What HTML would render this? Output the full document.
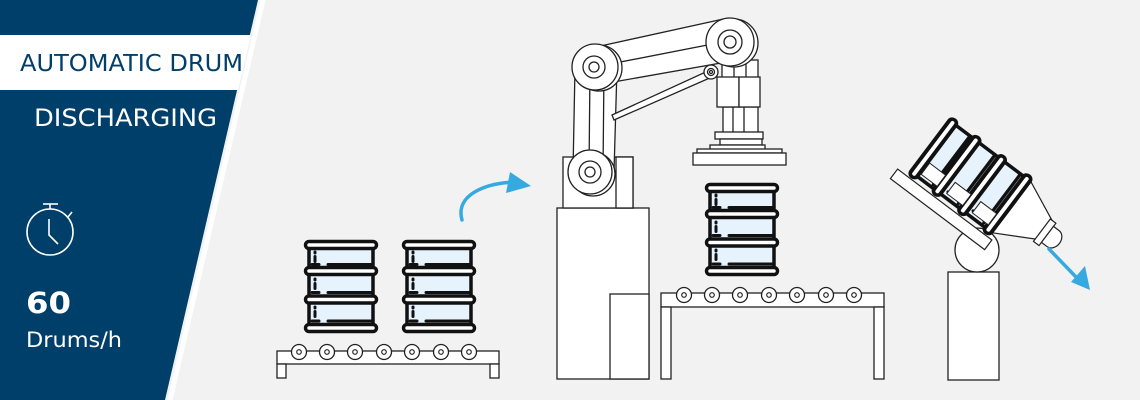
<!DOCTYPE html>
<html><head><meta charset="utf-8"><style>
html,body{margin:0;padding:0;background:#f2f2f2;}
svg{display:block}
text{font-family:"DejaVu Sans","Liberation Sans",sans-serif;}
</style></head><body>
<svg width="1140" height="400" viewBox="0 0 1140 400" xmlns="http://www.w3.org/2000/svg">
<defs>
<g id="drum">
  <rect x="5" y="6" width="64" height="82" fill="#e6f2fc" stroke="#111" stroke-width="3.5"/>
  <g fill="#fff" stroke="#111" stroke-width="3.5">
    <rect x="1.5" y="1.5" width="71" height="7" rx="3.5"/>
    <rect x="1.5" y="27.5" width="71" height="7" rx="3.5"/>
    <rect x="1.5" y="56" width="71" height="7" rx="3.5"/>
    <rect x="1.5" y="84.5" width="71" height="7" rx="3.5"/>
  </g>
  <g stroke="#111" stroke-width="3" stroke-linecap="round" fill="none">
    <path d="M11 12v1M11 16.5v5M8 24.5h7M24 24.5h45"/>
    <path d="M11 39v1M11 43.5v5M8 52.5h7M24 52.5h45"/>
    <path d="M11 67v1M11 71.5v5M8 81h7M24 81h45"/>
  </g>
</g>
<g id="roller"><circle r="7.5" fill="#fff" stroke="#222" stroke-width="1.3"/><circle r="2.3" fill="none" stroke="#222" stroke-width="1.1"/></g>
</defs>

<rect width="1140" height="400" fill="#f2f2f2"/>
<!-- left panel -->
<polygon points="0,0 258,0 165,400 0,400" fill="#003f69"/>
<line x1="263" y1="0" x2="170" y2="400" stroke="#fff" stroke-width="5"/>
<polygon points="0,35 251,35 238,90 0,90" fill="#fff"/>
<text x="20" y="71" font-size="23" fill="#003f69" textLength="223" lengthAdjust="spacingAndGlyphs">AUTOMATIC DRUM</text>
<text x="34" y="126" font-size="24" fill="#fff" textLength="183" lengthAdjust="spacingAndGlyphs">DISCHARGING</text>
<g stroke="#fff" stroke-width="1.6" fill="none">
  <circle cx="50" cy="232" r="23"/>
  <line x1="43" y1="204" x2="58" y2="204"/><line x1="50" y1="204" x2="50" y2="209"/>
  <line x1="68" y1="217" x2="72" y2="212"/>
  <polyline points="49,219 49,235 58,244"/>
</g>
<text x="26" y="313" font-size="29" font-weight="bold" fill="#fff" textLength="45" lengthAdjust="spacingAndGlyphs">60</text>
<text x="26" y="347" font-size="21" fill="#fff" textLength="96" lengthAdjust="spacingAndGlyphs">Drums/h</text>

<!-- conveyor 1 -->
<g fill="#fff" stroke="#222" stroke-width="1.3">
  <rect x="277" y="351" width="222" height="13"/>
  <rect x="277" y="364" width="9" height="14"/>
  <rect x="490" y="364" width="9" height="14"/>
</g>
<use href="#roller" x="299" y="352"/><use href="#roller" x="327" y="352"/><use href="#roller" x="355" y="352"/><use href="#roller" x="384" y="352"/><use href="#roller" x="412" y="352"/><use href="#roller" x="441" y="352"/><use href="#roller" x="469" y="352"/>
<use href="#drum" x="304" y="240"/>
<use href="#drum" x="402" y="240"/>

<!-- arrow 1 -->
<path d="M462 220 C455 195 485 183 515 182" stroke="#36a9e1" stroke-width="3.5" fill="none" stroke-linecap="round"/>
<polygon points="510,172 531,186 506,193" fill="#36a9e1"/>

<!-- robot base -->
<g fill="#fff" stroke="#222" stroke-width="1.3">
  <rect x="557" y="208" width="92" height="171"/>
  <rect x="610" y="294" width="39" height="85"/>
  <rect x="563" y="157" width="70" height="51"/>
  <rect x="616" y="157" width="17" height="51"/>
  <polygon points="575,68 617,68 614,172 573,172"/>
  <line x1="590" y1="68" x2="589" y2="172"/>
  <line x1="604" y1="68" x2="603" y2="172"/>
  <polygon points="612,115 710,70 712,77 614,120"/>
  <polygon points="596,47 728,18 738,60 602,84"/>
  <line x1="600" y1="66" x2="733" y2="40"/>
  <rect x="722" y="60" width="36" height="18"/>
  <line x1="734" y1="60" x2="734" y2="78"/><line x1="746" y1="60" x2="746" y2="78"/>
  <rect x="723" y="107" width="35" height="26"/>
  <line x1="733" y1="107" x2="733" y2="133"/><line x1="744" y1="107" x2="744" y2="133"/>
  <rect x="717" y="77" width="22" height="30"/>
  <rect x="739" y="77" width="21" height="30"/>
  <rect x="715" y="132" width="48" height="7"/>
  <rect x="720" y="139" width="42" height="6"/>
  <rect x="710" y="145" width="55" height="5"/>
  <rect x="697" y="149" width="85" height="4"/>
  <rect x="693" y="153" width="93" height="12"/>
  <circle cx="593" cy="174" r="22"/><circle cx="590" cy="172" r="22"/>
  <circle cx="590" cy="172" r="11"/><circle cx="590" cy="172" r="5"/>
  <circle cx="599" cy="68" r="23"/><circle cx="595" cy="67" r="23"/>
  <circle cx="594" cy="67" r="11"/><circle cx="594" cy="67" r="5"/>
  <circle cx="734" cy="43" r="24"/><circle cx="730" cy="42" r="24"/>
  <circle cx="730" cy="42" r="12"/><circle cx="730" cy="42" r="6"/>
  <circle cx="711" cy="72" r="7"/><circle cx="711" cy="72" r="3.5"/><circle cx="711" cy="72" r="1.5"/>
</g>

<!-- conveyor 2 -->
<g fill="#fff" stroke="#222" stroke-width="1.3">
  <rect x="661" y="293" width="223" height="14"/>
  <rect x="661" y="307" width="10" height="72"/>
  <rect x="874" y="307" width="10" height="72"/>
</g>
<use href="#roller" x="684" y="295"/><use href="#roller" x="712" y="295"/><use href="#roller" x="740" y="295"/><use href="#roller" x="769" y="295"/><use href="#roller" x="797" y="295"/><use href="#roller" x="826" y="295"/><use href="#roller" x="854" y="295"/>
<use href="#drum" x="705" y="183"/>

<!-- discharger -->
<g fill="#fff" stroke="#222" stroke-width="1.3">
  <rect x="948" y="272" width="51" height="108"/>
  <circle cx="977" cy="250" r="22"/>
</g>
<g transform="translate(970,176) rotate(-53)">
  <polygon points="-33,50 33,50 14,92 -10,92" fill="#fff" stroke="#222" stroke-width="1.2"/>
  <rect x="-14" y="90" width="28" height="7" fill="#fff" stroke="#222" stroke-width="1.2"/>
  <path d="M-10 97 v7 a10 8 0 0 0 20 0 v-7z" fill="#fff" stroke="#222" stroke-width="1.2"/>
  <rect x="-50" y="-62" width="12" height="118" fill="#fff" stroke="#222" stroke-width="1.2"/>
  <use href="#drum" x="-37" y="-46" transform="scale(1,1.12)"/>
  <rect x="-28" y="-40" width="14" height="20" fill="#fff" stroke="#222" stroke-width="1"/>
  <rect x="-28" y="-8" width="14" height="20" fill="#fff" stroke="#222" stroke-width="1"/>
  <rect x="-28" y="24" width="14" height="20" fill="#fff" stroke="#222" stroke-width="1"/>
</g>

<!-- arrow 2 -->
<path d="M1049 249 L1076 277" stroke="#36a9e1" stroke-width="3.5" stroke-linecap="round"/>
<polygon points="1071,282 1085,266 1090,290" fill="#36a9e1"/>
</svg>
</body></html>
